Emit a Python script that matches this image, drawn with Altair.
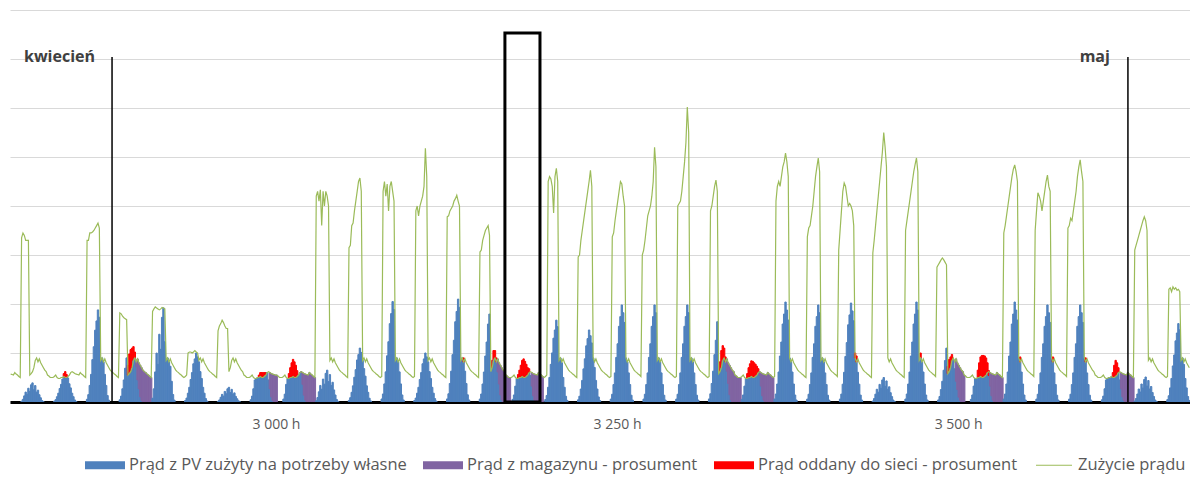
import altair as alt
import pandas as pd

alt.data_transformers.disable_max_rows()

FONT = "Open Sans"
DAY0 = 2808                    # hour number at midnight of day 0
H_START, H_END = 2805, 3670    # visible hour range

SERIES = [
    "Prąd z PV zużyty na potrzeby własne",
    "Prąd z magazynu - prosument",
    "Prąd oddany do sieci - prosument",
    "Zużycie prądu",
]
COLORS = ["#4F81BD", "#8064A2", "#FF0000", "#9BBB59"]
SWATCHES = ["M-1,-0.2H1V0.2H-1Z"] * 3 + ["M-0.9,-0.03H0.9V0.03H-0.9Z"]

# ---- days shown (day 0 starts at DAY0) ----
day_index = list(range(-1, 36))

# first hour of the working shift and hourly load during the shift (empty = day off)
shift_start = [0, 5, 0, 5, 5, 5, 7, 5, 0, 0, 5, 5, 6, 6, 5, 5, 0, 7, 5, 6, 4,
               6, 6, 0, 6, 5, 4, 5, 5, 4, 0, 5, 4, 4, 0, 5, 6]
shift_load = [
    [],
    [3.35, 3.45, 3.4, 3.3, 3.3, 3.3],
    [],
    [3.3, 3.3, 3.45, 3.45, 3.47, 3.5, 3.55, 3.6, 3.65, 3.55],
    [1.82, 1.8, 1.75, 1.72, 1.7, 1.68],
    [1.85, 1.9, 1.94, 1.92, 1.9, 1.88, 1.9, 1.93, 1.92, 1.9],
    [1.0, 1.02, 1.02, 1.0, 1.02, 1.05, 1.02, 1.0],
    [1.45, 1.55, 1.6, 1.67, 1.62, 1.55, 1.5, 1.5],
    [],
    [],
    [4.2, 4.3, 4.1, 4.33, 3.6, 4.3, 4.0, 4.3, 4.2, 4.0],
    [3.15, 3.2, 3.6, 3.65, 3.9, 4.1, 4.3, 4.5, 4.57, 4.3],
    [4.3, 4.5, 4.2, 4.45, 3.9, 4.4, 4.5, 4.3, 4.1],
    [3.9, 4.0, 3.8, 4.0, 4.1, 4.2, 4.4, 5.18, 4.6],
    [3.78, 3.8, 3.9, 3.95, 4.0, 4.1, 4.15, 4.22, 4.1, 4.0],
    [3.06, 3.1, 3.3, 3.4, 3.5, 3.55, 3.6, 3.4],
    [],
    [4.5, 4.6, 4.55, 4.4, 3.86, 4.6, 4.77, 4.5],
    [2.96, 3.0, 3.3, 3.5, 3.7, 3.9, 4.1, 4.3, 4.5, 4.73, 4.4],
    [3.37, 3.45, 3.7, 3.9, 4.1, 4.3, 4.5, 4.45, 4.2, 4.0],
    [3.0, 3.1, 3.3, 3.55, 3.8, 3.9, 4.0, 4.2, 4.5, 5.2, 4.8],
    [4.0, 4.05, 4.1, 4.3, 4.6, 4.9, 5.3, 6.02, 5.5],
    [3.9, 4.0, 4.2, 4.4, 4.53, 4.3],
    [],
    [4.1, 4.4, 4.5, 4.4, 4.6, 4.8, 4.9, 5.08, 4.9, 4.6],
    [3.37, 3.55, 3.6, 3.8, 4.0, 4.3, 4.6, 4.8, 4.98, 4.7],
    [3.1, 3.5, 3.9, 4.3, 4.47, 4.4, 4.2, 4.0, 4.05, 4.0, 3.9, 3.6],
    [3.04, 3.3, 3.6, 3.9, 4.2, 4.5, 4.8, 5.1, 5.5, 5.2, 4.8],
    [3.5, 3.7, 3.9, 4.1, 4.3, 4.5, 4.7, 4.85, 4.98, 4.7],
    [2.75, 2.8, 2.85, 2.9, 2.94, 2.9, 2.85, 2.8],
    [],
    [3.45, 3.6, 3.8, 4.0, 4.2, 4.4, 4.6, 4.75, 4.84, 4.7, 4.5],
    [3.5, 3.9, 4.27, 4.2, 4.1, 3.9, 4.1, 4.3, 4.5, 4.63, 4.4, 4.3],
    [3.55, 3.6, 3.75, 3.7, 3.9, 4.1, 4.3, 4.6, 4.8, 4.94, 4.7, 4.5],
    [],
    [3.1, 3.2, 3.3, 3.4, 3.5, 3.6, 3.7, 3.78, 3.7, 3.5],
    [2.3, 2.33, 2.25, 2.35, 2.3, 2.33, 2.28, 2.3, 2.25],
]

# load outside the shift, by hour of day
load_workday = [0.6, 0.57, 0.55, 0.52, 0.5, 0.52, 0.55, 0.55, 0.55, 0.55, 0.55, 0.55,
                0.58, 0.62, 0.7, 0.85, 0.9, 0.82, 0.88, 0.8, 0.75, 0.7, 0.65, 0.62]
load_dayoff = [0.55, 0.53, 0.5, 0.5, 0.5, 0.52, 0.55, 0.5, 0.48, 0.48, 0.5, 0.5,
               0.52, 0.5, 0.5, 0.52, 0.55, 0.6, 0.62, 0.6, 0.58, 0.57, 0.56, 0.55]

# PV output: daily peak and hourly share of the peak
pv_peak = [0, 0.39, 0.6, 1.88, 1.5, 1.92, 1.0, 0.3, 1.5, 2.0, 0.65, 1.1, 2.05, 1.0,
           2.1, 2.04, 1.8, 1.67, 1.47, 1.98, 1.98, 1.98, 2.1, 1.8, 2.04, 1.98, 2.02,
           0.5, 2.04, 1.41, 1.8, 2.04, 1.98, 1.98, 1.5, 0.51, 1.6]
pv_broken = [0, 1, 0, 0, 0, 1, 0, 1, 0, 0, 1, 0, 0, 0, 0, 0, 0, 0, 0, 0, 0, 0, 0,
             0, 0, 0, 0, 1, 0, 0, 0, 0, 0, 0, 0, 1, 0]
pv_clear = [0, 0, 0, 0, 0, 0.03, 0.08, 0.18, 0.3, 0.46, 0.6, 0.78, 0.88, 1.0,
            0.92, 0.82, 0.62, 0.48, 0.3, 0.18, 0.07, 0.02, 0, 0]
pv_cloudy = [0, 0, 0, 0, 0, 0.04, 0.14, 0.32, 0.52, 0.4, 0.72, 0.56, 0.9, 1.0,
             0.64, 0.86, 0.52, 0.62, 0.38, 0.22, 0.08, 0.02, 0, 0]

# energy sent to the grid: day, first hour of day, hourly amounts
export_day = [1, 3, 7, 8, 13, 14, 15, 21, 22, 25, 27, 28, 29, 30, 31, 32, 33]
export_from = [12, 11, 11, 9, 17, 14, 9, 13, 9, 16, 16, 12, 10, 17, 17, 17, 13]
export_values = [
    [0.06, 0.12, 0.06],
    [0.2, 0.4, 0.45, 0.4, 0.28, 0.12],
    [0.05, 0.08, 0.1, 0.1, 0.08, 0.05],
    [0.1, 0.2, 0.3, 0.35, 0.32, 0.25, 0.12],
    [0.08],
    [0.15, 0.2, 0.15, 0.08],
    [0.08, 0.15, 0.25, 0.33, 0.38, 0.33, 0.25, 0.15, 0.08],
    [0.2, 0.35, 0.3, 0.2, 0.1],
    [0.1, 0.2, 0.28, 0.32, 0.33, 0.3, 0.25, 0.18, 0.08],
    [0.1, 0.12],
    [0.1],
    [0.15, 0.25, 0.22, 0.12],
    [0.15, 0.3, 0.4, 0.45, 0.45, 0.42, 0.35, 0.2, 0.1],
    [0.1],
    [0.1],
    [0.08],
    [0.1, 0.25, 0.33, 0.25, 0.1],
]

# battery discharge periods: day, from hour, to hour (may run past midnight)
storage_day = [3, 7, 8, 14, 15, 21, 22, 28, 29, 33]
storage_from = [17, 19, 18, 18, 19, 18, 18, 18, 19, 19]
storage_to = [29, 25, 29, 28, 28, 29, 29, 25, 29, 29]

# annotations
month_names = ["kwiecień", "maj"]
month_hour = [2879.8, 3624.5]
month_label_hour = [2867.3, 3611.3]
month_top = 7.04
box_hours = [3167.8, 3193.5]
box_top = 7.53

# ---- hourly table ----
load_at, pv_at = {}, {}
for i, d in enumerate(day_index):
    shape = pv_cloudy if pv_broken[i] else pv_clear
    start, levels = shift_start[i], shift_load[i]
    for hod in range(24):
        h = DAY0 + 24 * d + hod
        if levels and start <= hod < start + len(levels):
            load_at[h] = levels[hod - start]
        elif levels:
            load_at[h] = load_workday[hod]
        else:
            load_at[h] = load_dayoff[hod]
        pv_at[h] = pv_peak[i] * shape[hod]

own = {h: min(pv_at[h], load_at[h]) for h in load_at}
storage = {h: 0.0 for h in load_at}
for d, s, e in zip(storage_day, storage_from, storage_to):
    for hod in range(s, e):
        h = DAY0 + 24 * d + hod
        storage[h] = max(load_at[h] - own[h], 0.0)
export = {h: 0.0 for h in load_at}
for d, s, vals in zip(export_day, export_from, export_values):
    for j, v in enumerate(vals):
        export[DAY0 + 24 * d + s + j] = v

bar_rows, line_rows = [], []
for h in range(H_START, H_END):
    base = 0.0
    for k, v in enumerate([own[h], storage[h], export[h]]):
        if v > 0:
            bar_rows.append({"h0": h, "h1": h + 1, "series": SERIES[k],
                             "y0": base, "y1": base + v})
            base += v
    line_rows.append({"hour": h + 0.5, "load": load_at[h]})

bars_df = pd.DataFrame(bar_rows)
line_df = pd.DataFrame(line_rows)
month_df = pd.DataFrame({"name": month_names, "hour": month_hour,
                         "label_hour": month_label_hour, "top": month_top})
box_df = pd.DataFrame({"h0": [box_hours[0]], "h1": [box_hours[1]], "top": [box_top]})
legend_df = pd.DataFrame({"series": SERIES, "hour": H_START - 200, "v": 0})

# ---- shared scales / axes ----
x_scale = alt.Scale(domain=[H_START, H_END], nice=False, zero=False)
y_scale = alt.Scale(domain=[0, 8], nice=False)
x_axis = alt.Axis(
    values=[3000, 3250, 3500],
    labelExpr="replace(format(datum.value, ',d'), ',', ' ') + ' h'",
    ticks=False, grid=False, domainColor="#000000", domainWidth=3,
    labelPadding=15, labelFontSize=14, labelColor="#595959", labelFont=FONT,
    title=None,
)
y_axis = alt.Axis(values=list(range(0, 9)), labels=False, ticks=False, domain=False,
                  grid=True, gridColor="#D9D9D9", gridWidth=1, title=None)
color_scale = alt.Scale(domain=SERIES, range=COLORS)


def X(field, **kw):
    return alt.X(field, type="quantitative", scale=x_scale, axis=x_axis, **kw)


def Y(field, **kw):
    return alt.Y(field, type="quantitative", scale=y_scale, axis=y_axis, **kw)


bars = alt.Chart(bars_df).mark_bar(clip=True, strokeWidth=1.0).encode(
    x=X("h0"), x2="h1", y=Y("y0"), y2="y1",
    color=alt.Color("series:N", scale=color_scale, legend=None),
    stroke=alt.Stroke("series:N", scale=color_scale, legend=None),
)

line = alt.Chart(line_df).mark_line(color="#9BBB59", strokeWidth=1.2, clip=True).encode(
    x=X("hour"), y=Y("load"),
)

rules = alt.Chart(month_df).mark_rule(color="#000000", strokeWidth=1.5).encode(
    x=X("hour"), y=Y("top"), y2=alt.datum(0),
)

labels = alt.Chart(month_df).mark_text(
    font=FONT, fontSize=16, fontWeight="bold", color="#404040",
    align="right", baseline="middle",
).encode(x=X("label_hour"), y=Y("top"), text="name:N")

box = alt.Chart(box_df).mark_rect(
    fillOpacity=0, stroke="#000000", strokeWidth=3,
).encode(x=X("h0"), x2="h1", y=Y("top"), y2=alt.datum(0))

legend_pts = alt.Chart(legend_df).mark_point(
    filled=True, size=1600, opacity=1, clip=True,
).encode(
    x=X("hour"), y=Y("v"),
    color=alt.Color("series:N", scale=alt.Scale(domain=SERIES, range=COLORS),
                    legend=alt.Legend(
                        title=None, orient="none", legendX=75, legendY=435,
                        direction="horizontal", labelFont=FONT, labelFontSize=16.5,
                        labelColor="#595959", labelOffset=4, columnPadding=16,
                        labelLimit=500, symbolSize=1600, symbolStrokeWidth=0,
                        symbolOpacity=1,
                    )),
    shape=alt.Shape("series:N", scale=alt.Scale(domain=SERIES, range=SWATCHES)),
)

chart = alt.layer(bars, line, rules, box, labels, legend_pts).resolve_scale(
    color="independent", stroke="independent", shape="independent",
).properties(
    width=1180, height=392,
    padding={"left": 10, "top": 10, "right": 0, "bottom": 75},
    autosize=alt.AutoSizeParams(type="none"),
    background="#FFFFFF",
).configure_view(stroke=None)

chart.save("out.html", embed_options={"renderer": "svg", "actions": False})
